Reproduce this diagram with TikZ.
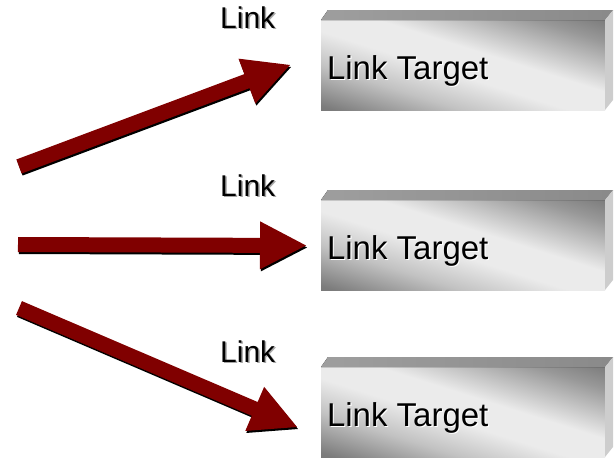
\documentclass[tikz,border=0pt]{standalone}
\usepackage{fontspec}
\setmainfont{Liberation Sans}
\usetikzlibrary{calc}
\definecolor{mzero}{HTML}{6E6E6E}
\definecolor{mlow}{HTML}{7C7C7C}
\definecolor{mhalf}{HTML}{C2C2C2}
\definecolor{mone}{HTML}{EBEBEB}
\definecolor{mthree}{HTML}{989898}
\definecolor{mtwo}{HTML}{606060}
\definecolor{arrred}{HTML}{800000}
\definecolor{sidegray}{HTML}{CDCDCD}
\pgfdeclarehorizontalshading{metal}{100bp}{color(0bp)=(mzero); color(32bp)=(mzero); color(36.4bp)=(mlow); color(42.8bp)=(mhalf); color(48.2bp)=(mone); color(52.9bp)=(mone); color(60.8bp)=(mthree); color(68bp)=(mtwo); color(100bp)=(mtwo)}
\tikzset{
  front/.style={minimum width=284pt, minimum height=90pt,
    inner sep=0pt, outer sep=0pt, anchor=north west},
  topface/.style={left color=black!38, right color=black!46, draw=none},
  sideface/.style={fill=sidegray, draw=none},
  lbl/.style={font=\fontsize{30}{36}\selectfont, inner sep=0pt, anchor=base west},
  tgt/.style={font=\fontsize{33}{39}\selectfont, inner sep=0pt, anchor=base west},
  arrbody/.style={fill=arrred},
  arrshadow/.style={fill=black, transform canvas={shift={(1pt,-2pt)}}}
}
\newcommand\blockarrow[3]{%
  \coordinate (#3b) at ($(#2)!46pt!(#1)$);
  \coordinate (#3sL) at ($(#1)!7.5pt!90:(#2)$);
  \coordinate (#3sR) at ($(#1)!7.5pt!-90:(#2)$);
  \coordinate (#3bL) at ($(#3b)!7.5pt!90:(#2)$);
  \coordinate (#3bR) at ($(#3b)!7.5pt!-90:(#2)$);
  \coordinate (#3hL) at ($(#3b)!24pt!90:(#2)$);
  \coordinate (#3hR) at ($(#3b)!24pt!-90:(#2)$);
  \fill[arrshadow] (#3sL) -- (#3bL) -- (#3hL) -- (#2) -- (#3hR) -- (#3bR) -- (#3sR) -- cycle;
  \fill[arrbody] (#3sL) -- (#3bL) -- (#3hL) -- (#2) -- (#3hR) -- (#3bR) -- (#3sR) -- cycle;
}
\newcommand\metalbox[4]{% #1 name, #2 x, #3 y top of front face, #4 baseline
  \node[front] (#1) at (#2,#3) {};
  \begin{scope}
    \clip (#1.north west) rectangle (#1.south east);
    \shade[shading=metal, shading angle=72.4] (#1.center) circle[radius=150];
  \end{scope}
  \fill[topface] (#1.north west) -- (#1.north east) -- ++(8,-10) -- ($(#1.north west)+(7,-10)$) -- cycle;
  \fill[sideface] (#1.north east) -- ++(8,-10) -- ($(#1.south east)+(8,-10)$) -- (#1.south east) -- cycle;
  \node[tgt, text=white] at (328,#4+1) {Link Target};
  \node[tgt] (#1t) at (326.8,#4) {Link Target};
}
\begin{document}
\begin{tikzpicture}[x=1pt,y=-1pt]
\useasboundingbox (0,0) rectangle (616,458);
% boxes
\metalbox{boxA}{321}{20}{79}
\metalbox{boxB}{321}{200}{259}
\metalbox{boxC}{321}{367}{426}
% labels
\node[lbl, text=black!35] at (221.5,29.5) {Link};
\node[lbl] (linkA) at (220,28) {Link};
\node[lbl, text=black!35] at (221.5,197.5) {Link};
\node[lbl] (linkB) at (220,196) {Link};
\node[lbl, text=black!35] at (221.5,363.5) {Link};
\node[lbl] (linkC) at (220,362) {Link};
% arrows
\coordinate (a1s) at (19,166.5);
\coordinate (a1e) at (290,65);
\coordinate (a2s) at (18,244.5);
\coordinate (a2e) at (306,245.5);
\coordinate (a3s) at (19,308);
\coordinate (a3e) at (297,427);
\blockarrow{a1s}{a1e}{A}
\blockarrow{a2s}{a2e}{B}
\blockarrow{a3s}{a3e}{C}
\end{tikzpicture}
\end{document}
